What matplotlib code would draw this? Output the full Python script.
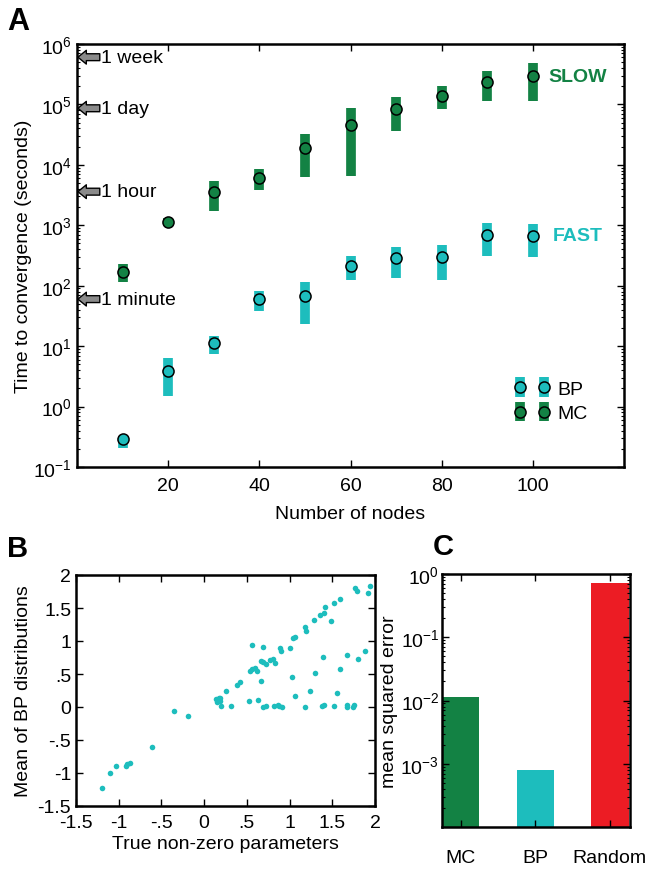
import matplotlib
matplotlib.use('Agg')
import matplotlib.pyplot as plt
import numpy as np
from matplotlib.ticker import LogLocator, NullFormatter, FixedLocator, LogFormatterSciNotation

plt.rcParams['font.family'] = ['Liberation Sans', 'DejaVu Sans']
plt.rcParams['mathtext.fontset'] = 'custom'
plt.rcParams['mathtext.rm'] = 'Liberation Sans'
plt.rcParams['mathtext.it'] = 'Liberation Sans:italic'
plt.rcParams['mathtext.bf'] = 'Liberation Sans:bold'

# ---------------- data ----------------
nodes = [10, 20, 30, 40, 50, 60, 70, 80, 90, 100]
mc_mean = [166, 1140, 3590, 6030, 19000, 46100, 84000, 139000, 238000, 292000]
mc_low = [115, 1000, 1740, 3870, 6200, 6460, 36700, 84000, 115000, 115000]
mc_high = [229, 1300, 5460, 8500, 32400, 86000, 131000, 200000, 362000, 484000]
bp_mean = [0.29, 3.9, 11.1, 60, 68, 214, 283, 294, 697, 670]
bp_low = [0.21, 1.47, 7.4, 38, 23, 126, 132, 124, 312, 300]
bp_high = [0.33, 6.3, 14.5, 82, 116, 305, 430, 470, 1090, 1050]

time_marks = ['1 week', '1 day', '1 hour', '1 minute']
time_secs = [604800, 86400, 3600, 60]

true_params = [-1.20, -1.10, -1.03, -0.92, -0.90, -0.87, -0.61, -0.35, -0.19, 0.135,
               0.15, 0.17, 0.19, 0.19, 0.20, 0.26, 0.32, 0.385, 0.42, 0.52,
               0.54, 0.56, 0.59, 0.62, 0.56, 0.625, 0.67, 0.685, 0.665, 0.69,
               0.72, 0.69, 0.72, 0.77, 0.81, 0.835, 0.82, 0.86, 0.88, 0.915,
               0.885, 0.90, 1.01, 1.03, 1.04, 1.06, 1.065, 1.18, 1.18, 1.19,
               1.24, 1.29, 1.30, 1.36, 1.40, 1.39, 1.38, 1.40, 1.42, 1.48,
               1.52, 1.52, 1.585, 1.56, 1.59, 1.67, 1.67, 1.67, 1.76, 1.74,
               1.77, 1.79, 1.80, 1.88, 1.94, 1.92]
bp_means = [-1.23, -1.00, -0.90, -0.90, -0.87, -0.855, -0.605, -0.055, -0.13, 0.12,
            0.07, 0.135, 0.135, 0.085, 0.01, 0.235, 0.01, 0.335, 0.385, 0.095,
            0.55, 0.57, 0.585, 0.55, 0.945, 0.10, 0.40, 0.91, 0.70, 0.675,
            0.645, 0.0, 0.02, 0.71, 0.725, 0.66, 0.01, 0.035, 0.01, 0.0,
            0.90, 0.85, 0.90, 0.45, 1.05, 1.06, 0.16, 0.0, 1.21, 1.145,
            0.25, 1.32, 0.51, 1.40, 1.42, 0.76, 0.01, 0.035, 1.52, 1.31,
            0.01, 1.575, 1.635, 0.21, 0.57, 0.785, 0.035, 0.0, 0.035, 0.0,
            1.80, 1.76, 0.72, 0.85, 1.835, 1.72]
b_ticks = [-1.5, -1, -0.5, 0, 0.5, 1, 1.5, 2]
b_ticklabels = ['-1.5', '-1', '-.5', '0', '.5', '1', '1.5', '2']

methods = ['MC', 'BP', 'Random']
mse = [0.0113, 8.0e-4, 0.72]

GREEN = '#138244'
CYAN = '#1dbdbd'
RED = '#ec1c24'

W, H = 651, 870
fig = plt.figure(figsize=(W / 100, H / 100), dpi=100)


def rect(l, t, r, b):
    return [l / W, 1 - b / H, (r - l) / W, (b - t) / H]


FS = 14
SPW = 1.8

# ---------------- Panel A ----------------
axA = fig.add_axes(rect(77, 45, 624, 468))
mc_err = [np.array(mc_mean) - np.array(mc_low), np.array(mc_high) - np.array(mc_mean)]
bp_err = [np.array(bp_mean) - np.array(bp_low), np.array(bp_high) - np.array(bp_mean)]
eb_mc = axA.errorbar(nodes, mc_mean, yerr=mc_err, fmt='o', color=GREEN, ecolor=GREEN,
                     elinewidth=7, capsize=0, markersize=8, markerfacecolor=GREEN,
                     markeredgecolor='black', markeredgewidth=1.1)
eb_bp = axA.errorbar(nodes, bp_mean, yerr=bp_err, fmt='o', color=CYAN, ecolor=CYAN,
                     elinewidth=7, capsize=0, markersize=8, markerfacecolor=CYAN,
                     markeredgecolor='black', markeredgewidth=1.1)
eb_mc[0].set_zorder(4)
eb_bp[0].set_zorder(4)
axA.set_yscale('log')
axA.set_xlim(0, 120)
axA.set_ylim(0.1, 1e6)
axA.set_xticks([20, 40, 60, 80, 100])
axA.yaxis.set_major_locator(LogLocator(base=10, numticks=20))
axA.yaxis.set_minor_locator(LogLocator(base=10, subs=np.arange(2, 10), numticks=20))
axA.yaxis.set_minor_formatter(NullFormatter())
axA.tick_params(which='both', direction='in', top=True, right=True, labelsize=FS)
axA.tick_params(which='major', length=5, width=1)
axA.tick_params(which='minor', length=2.5, width=0.8)
axA.tick_params(axis='x', which='major', pad=7)
axA.set_xlabel('Number of nodes', fontsize=FS, labelpad=8)
axA.set_ylabel('Time to convergence (seconds)', fontsize=FS, labelpad=1)
for s in axA.spines.values():
    s.set_linewidth(SPW)

for lab, sec in zip(time_marks, time_secs):
    axA.annotate('', xy=(0.2, sec), xytext=(5.0, sec),
                 arrowprops=dict(arrowstyle='simple,head_length=0.55,head_width=0.9,tail_width=0.45',
                                 fc='#8a8a8a', ec='black', lw=1.0, shrinkA=0, shrinkB=0,
                                 mutation_scale=11), zorder=5)
    axA.text(5.3, sec, lab, fontsize=FS, va='center', ha='left')

axA.text(103.5, 2.9e5, 'SLOW', color=GREEN, fontsize=FS, fontweight='bold', va='center', ha='left')
axA.text(104.3, 680, 'FAST', color=CYAN, fontsize=FS, fontweight='bold', va='center', ha='left')

leg = axA.legend([eb_bp, eb_mc], ['BP', 'MC'], numpoints=2, frameon=False, fontsize=FS,
                 loc='upper left', bbox_to_anchor=(0.799, 0.205), borderpad=0, borderaxespad=0,
                 handlelength=1.84, handletextpad=0.4, labelspacing=0.35)

# ---------------- Panel B ----------------
axB = fig.add_axes(rect(76, 576, 375, 807))
axB.scatter(true_params, bp_means, s=16, color=CYAN, linewidths=0)
axB.set_xlim(-1.5, 2)
axB.set_ylim(-1.5, 2)
axB.set_xticks(b_ticks)
axB.set_xticklabels(b_ticklabels)
axB.set_yticks(b_ticks)
axB.set_yticklabels(b_ticklabels)
axB.tick_params(direction='in', top=True, right=True, labelsize=FS, length=5, width=1)
axB.tick_params(axis='x', pad=6)
axB.set_xlabel('True non-zero parameters', fontsize=FS, labelpad=3)
axB.set_ylabel('Mean of BP distributions', fontsize=FS, labelpad=4)
for s in axB.spines.values():
    s.set_linewidth(SPW)

# ---------------- Panel C ----------------
axC = fig.add_axes(rect(442, 575, 630, 828))
axC.bar([1, 2, 3], mse, width=0.5, color=[GREEN, CYAN, RED])
axC.set_yscale('log')
axC.set_ylim(1e-4, 1)
axC.set_xlim(0.75, 3.27)
axC.set_xticks([1, 2, 3])
axC.set_xticklabels(methods)
axC.yaxis.set_major_locator(FixedLocator([1e-3, 1e-2, 1e-1, 1]))
axC.yaxis.set_major_formatter(LogFormatterSciNotation())
axC.yaxis.set_minor_locator(LogLocator(base=10, subs=np.arange(2, 10), numticks=20))
axC.yaxis.set_minor_formatter(NullFormatter())
axC.tick_params(which='both', direction='in', top=True, right=True, labelsize=FS)
axC.tick_params(axis='x', which='major', length=5, width=1, pad=16)
axC.tick_params(axis='y', which='major', length=5, width=1, pad=2)
axC.tick_params(which='minor', length=2.5, width=0.8)
axC.set_ylabel('mean squared error', fontsize=FS, labelpad=2)
for s in axC.spines.values():
    s.set_linewidth(SPW)

# ---------------- Panel labels ----------------
fig.text(7 / W, 1 - 7 / H, 'A', fontsize=22, fontweight='bold', va='top', ha='left')
fig.text(7 / W, 1 - 535 / H, 'B', fontsize=21, fontweight='bold', va='top', ha='left')
fig.text(433 / W, 1 - 533 / H, 'C', fontsize=21, fontweight='bold', va='top', ha='left')

fig.savefig('out.png', dpi=100)
